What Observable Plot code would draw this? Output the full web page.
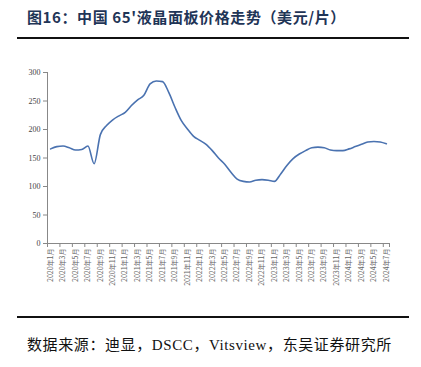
<!DOCTYPE html>
<html><head><meta charset="utf-8">
<script src="https://cdn.jsdelivr.net/npm/d3@7"></script>
<script src="https://cdn.jsdelivr.net/npm/@observablehq/plot@0.6"></script>
<style>
body{margin:0;width:421px;height:367px;position:relative;background:#fff;overflow:hidden}
#title{position:absolute;left:27px;top:6px;font:bold 15px "Noto Sans CJK SC","Liberation Serif",serif;letter-spacing:0.6px;color:#1f3557;white-space:nowrap}
.rule{position:absolute;left:17px;width:392px;height:2px;background:#111}
#chart{position:absolute;left:0;top:45px}
#src{position:absolute;left:27px;top:333px;font:15px "Liberation Serif","Noto Sans CJK SC",serif;letter-spacing:0.6px;color:#111;white-space:nowrap}
</style></head><body>
<div id="title">图16：中国 65'液晶面板价格走势（美元/片）</div>
<div class="rule" style="top:37px"></div>
<div id="chart"></div>
<div class="rule" style="top:316px"></div>
<div id="src">数据来源：迪显，DSCC，Vitsview，东吴证券研究所</div>
<script>
// Monthly price, Jan 2020 .. Jul 2024 (USD per panel)
const prices = [166,170,171,168,164,165,171,140,191,207,217,224,230,242,252,260,280,285,284,265,239,216,201,188,181,174,163,150,139,125,113,109,108,111,112,111,109,122,137,149,157,163,168,169,168,164,163,163,166,170,174,178,179,178,175];
const tickLabels = ["2020年1月","2020年3月","2020年5月","2020年7月","2020年9月","2020年11月","2021年1月","2021年3月","2021年5月","2021年7月","2021年9月","2021年11月","2022年1月","2022年3月","2022年5月","2022年7月","2022年9月","2022年11月","2023年1月","2023年3月","2023年5月","2023年7月","2023年9月","2023年11月","2024年1月","2024年3月","2024年5月","2024年7月"];
const yTicks = [0,50,100,150,200,250,300];

const n = prices.length;
const labelPos = tickLabels.map((_, k) => 2 * k);
const boundaryPos = d3.range(0, Math.ceil(n / 2) + 1).map(k => 2 * k - 0.5).filter(v => v <= n - 0.5);
if (boundaryPos[boundaryPos.length - 1] < n - 0.5) boundaryPos.push(n - 0.5);

const chart = Plot.plot({
  width: 421, height: 270,
  marginTop: 27, marginBottom: 72, marginLeft: 47, marginRight: 32,
  style: {fontFamily: "'Liberation Serif', serif", background: "#fff"},
  x: {type: "linear", domain: [-0.5, n - 0.5]},
  y: {domain: [0, 300]},
  marks: [
    Plot.ruleY([0], {stroke: "#888", strokeWidth: 1}),
    Plot.ruleX([-0.5], {stroke: "#888", strokeWidth: 1}),
    Plot.axisY({ticks: yTicks, tickSize: 4, tickPadding: 3, stroke: "#888", fill: "#444", fontSize: 8, tickFormat: d => d}),
    Plot.axisX({ticks: boundaryPos, tickSize: 4, tickFormat: () => "", stroke: "#888"}),
    Plot.axisX({ticks: labelPos, tickSize: 0, tickPadding: 5, tickRotate: -90, tickFormat: i => tickLabels[i / 2], fill: "#666", fontSize: 7, fontFamily: "'Noto Sans CJK SC', sans-serif"}),
    Plot.line(prices, {x: (d, i) => i, y: d => d, stroke: "#4a72b0", strokeWidth: 1.6, curve: "monotone-x"})
  ]
});
document.getElementById("chart").appendChild(chart);
</script>
</body></html>
